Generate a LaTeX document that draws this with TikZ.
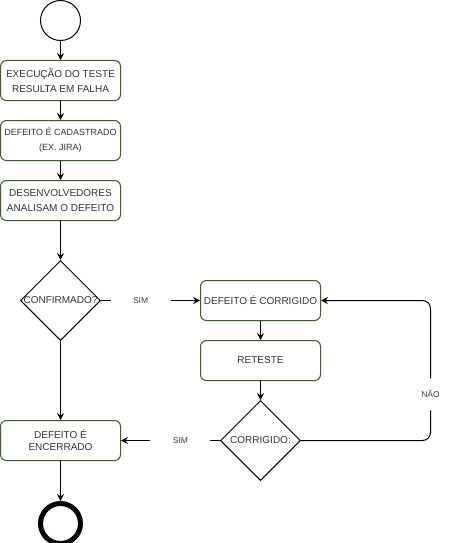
\documentclass[tikz,border=0pt]{standalone}
\usepackage{fontspec}
\setmainfont{Liberation Sans}
\usetikzlibrary{shapes.geometric, arrows.meta, positioning}
\definecolor{boxGreen}{HTML}{3A5E26}
\definecolor{txtGray}{HTML}{333333}

\begin{document}
\begin{tikzpicture}[x=1pt, y=-1pt, line width=1pt,
  stepbox/.style={rounded corners=6pt, draw=boxGreen, fill=white,
    minimum width=120pt, minimum height=40pt, inner sep=2pt, align=center,
    font=\fontsize{10}{15}\selectfont, text=txtGray},
  decision/.style={diamond, draw, minimum width=80pt, minimum height=80pt,
    inner sep=0pt, font=\fontsize{10}{12}\selectfont, text=txtGray},
  lbl/.style={fill=white, minimum width=60pt, minimum height=32pt, inner sep=0pt,
    font=\fontsize{8.5}{10}\selectfont, text=black!75},
  flow/.style={-{Stealth[length=7pt, width=7pt, inset=2.5pt]}}]

  \useasboundingbox (0,0) rectangle (461,543);

  \node[circle, draw, minimum size=40pt, inner sep=0pt] (start) at (60.5,20.5) {};

  \node[stepbox] (exec) at (60.5,80.5) {EXECUÇÃO DO TESTE\\RESULTA EM FALHA};
  \node[stepbox, below=19pt of exec, font=\fontsize{9}{15}\selectfont] (cad)
    {DEFEITO É CADASTRADO\\(EX. JIRA)};
  \node[stepbox, below=19pt of cad] (ana) {DESENVOLVEDORES\\ANALISAM O DEFEITO};

  \node[decision, below=39pt of ana] (conf) {\makebox[0pt]{CONFIRMADO?}};

  \node[stepbox, right=99pt of conf] (fix) {DEFEITO É CORRIGIDO};
  \node[stepbox, below=19pt of fix] (retest) {RETESTE};
  \node[decision, below=19pt of retest] (chk) {\makebox[0pt]{CORRIGIDO:}};

  \node[stepbox, left=99pt of chk, font=\fontsize{10}{12}\selectfont] (closed)
    {DEFEITO É\\ENCERRADO};
  \node[circle, draw, line width=5pt, minimum size=40pt, inner sep=0pt,
    below=40pt of closed] (stop) {};

  \coordinate (loop) at (430.5,300.5);

  % main flow
  \draw[flow] (start) -- (exec);
  \draw[flow] (exec) -- (cad);
  \draw[flow] (cad) -- (ana);
  \draw[flow] (ana) -- (conf);
  \draw[flow] (conf) -- node[lbl, pos=0.4] {SIM} (fix);
  \draw[flow] (conf) -- (closed);

  % correction loop
  \draw[flow] (fix) -- (retest);
  \draw[flow] (retest) -- (chk);
  \draw[flow] (chk) -- node[lbl, pos=0.4] {SIM} (closed);
  \draw[flow, rounded corners=8pt] (chk.east) -| node[lbl, pos=0.665] {NÃO} (loop)
    -- (fix.east);

  \draw[flow] (closed) -- (stop);
\end{tikzpicture}
\end{document}
